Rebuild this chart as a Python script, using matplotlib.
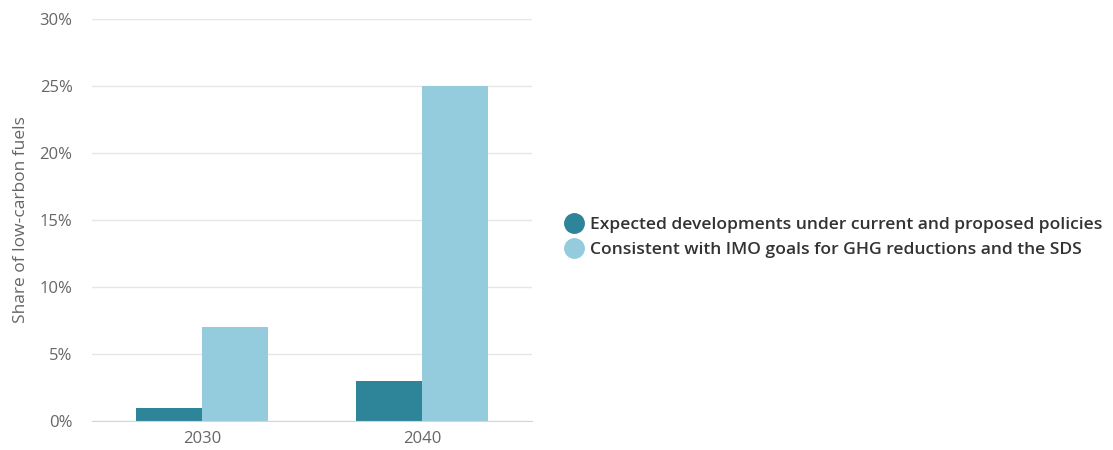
import matplotlib
matplotlib.use("Agg")
import matplotlib.pyplot as plt
from matplotlib.lines import Line2D
import numpy as np

categories = ["2030", "2040"]
series_names = ["Expected developments under current and proposed policies",
                "Consistent with IMO goals for GHG reductions and the SDS"]
expected = [1, 3]
consistent = [7, 25]
yticks = [0, 5, 10, 15, 20, 25, 30]
colors = ["#2e8499", "#95ccdd"]

plt.rcParams['font.family'] = ['Open Sans', 'DejaVu Sans']

fig = plt.figure(figsize=(11.13, 4.5), dpi=100)
ax = fig.add_axes([92/1113, 1-421/450, 440/1113, 402/450])

x = np.arange(len(categories))
w = 0.3
ax.bar(x - w/2, expected, width=w, color=colors[0], zorder=3)
ax.bar(x + w/2, consistent, width=w, color=colors[1], zorder=3)

ax.set_xlim(-0.5, 1.5)
ax.set_ylim(0, 30)
ax.set_yticks(yticks)
ax.set_yticklabels([f"{t}%" for t in yticks])
ax.set_xticks(x)
ax.set_xticklabels(categories)
ax.grid(axis='y', color='#e6e6e6', linewidth=1, zorder=0)
for s in ['top', 'right', 'left']:
    ax.spines[s].set_visible(False)
ax.spines['bottom'].set_color('#ccd6eb')
ax.spines['bottom'].set_zorder(4)
ax.tick_params(axis='y', length=0, pad=14, labelsize=12, labelcolor='#666666')
ax.tick_params(axis='x', length=0, pad=7, labelsize=12, labelcolor='#666666')
ax.set_ylabel("Share of low-carbon fuels", fontsize=12.5, color='#666666')
ax.yaxis.set_label_coords(-0.143, 0.5)

handles = [Line2D([0], [0], marker='o', linestyle='', markersize=14,
                  markerfacecolor=c, markeredgecolor=c) for c in colors]
fig.legend(handles, series_names, loc='center left', bbox_to_anchor=(0.492, 0.472),
           frameon=False, handletextpad=0.35, labelspacing=0.5, handlelength=1.2,
           prop={'size': 12.6, 'weight': 'semibold'}, labelcolor='#333333')

fig.savefig("out.png", dpi=100)
